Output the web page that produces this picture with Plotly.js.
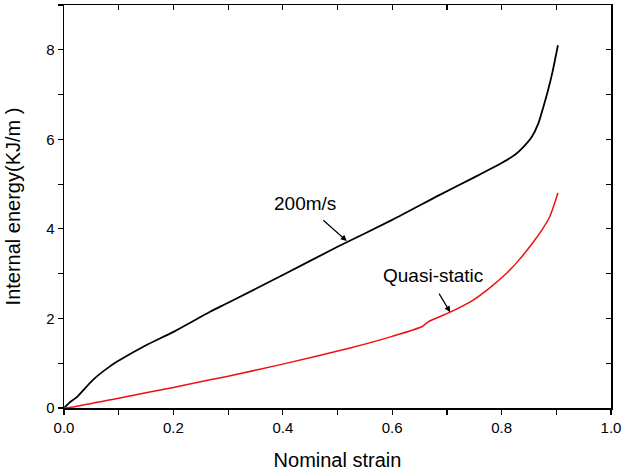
<!DOCTYPE html>
<html>
<head>
<meta charset="utf-8">
<script src="https://cdn.plot.ly/plotly-3.0.1.min.js"></script>
<style>html,body{margin:0;padding:0;background:#fff;}#chart{width:627px;height:476px;}</style>
</head>
<body>
<div id="chart"></div>
<script>
const strain200 = [0, 0.01, 0.024, 0.053, 0.084, 0.102, 0.15, 0.2, 0.267, 0.3, 0.4, 0.5, 0.6, 0.687, 0.75, 0.8, 0.825, 0.84, 0.855, 0.867, 0.877, 0.885, 0.893, 0.903];
const energy200 = [0, 0.12, 0.25, 0.63, 0.93, 1.07, 1.4, 1.7, 2.15, 2.35, 2.97, 3.6, 4.2, 4.76, 5.15, 5.47, 5.66, 5.83, 6.05, 6.35, 6.75, 7.1, 7.5, 8.1];
const strainQS = [0, 0.02, 0.1, 0.2, 0.267, 0.3, 0.4, 0.523, 0.6, 0.655, 0.665, 0.706, 0.748, 0.78, 0.81, 0.83, 0.857, 0.875, 0.888, 0.903];
const energyQS = [0, 0.03, 0.22, 0.46, 0.63, 0.71, 0.98, 1.34, 1.6, 1.82, 1.92, 2.14, 2.41, 2.7, 3.02, 3.28, 3.69, 4.0, 4.27, 4.8];
const xTickVals = [0, 0.2, 0.4, 0.6, 0.8, 1.0];
const xTickText = ["0.0", "0.2", "0.4", "0.6", "0.8", "1.0"];
const yTickVals = [0, 2, 4, 6, 8];
const yTickText = ["0", "2", "4", "6", "8"];
const labels = ["200m/s", "Quasi-static"];
const labelPos = [[0.441, 4.56], [0.675, 2.95]];
const arrowTips = [[0.517, 3.73], [0.706, 2.14]];

const font = "Arial, 'Liberation Sans', sans-serif";
const traces = [
  {x: strain200, y: energy200, mode: 'lines', line: {color: '#000000', width: 1.8, shape: 'spline', smoothing: 0.6}, hoverinfo: 'skip'},
  {x: strainQS, y: energyQS, mode: 'lines', line: {color: '#ee1111', width: 1.5, shape: 'spline', smoothing: 0.6}, hoverinfo: 'skip'},
  {x: [0], y: [0], xaxis: 'x2', yaxis: 'y2', mode: 'markers', marker: {opacity: 0}, hoverinfo: 'skip'}
];
const axBase = {
  showgrid: false, zeroline: false, showline: true, linecolor: '#000', linewidth: 1.5,
  ticks: 'outside', ticklen: 5, tickwidth: 1.2, tickcolor: '#000',
  tickfont: {family: font, size: 15, color: '#000'}
};
const layout = {
  width: 627, height: 476,
  margin: {l: 64, r: 16, t: 5, b: 68},
  paper_bgcolor: '#fff', plot_bgcolor: '#fff',
  showlegend: false,
  xaxis: Object.assign({}, axBase, {
    range: [0, 1.0], tickvals: xTickVals, ticktext: xTickText,
    minor: {dtick: 0.1, ticks: 'outside', ticklen: 5, tickwidth: 1.2, tickcolor: '#000'},
    title: {text: 'Nominal strain', font: {family: font, size: 20, color: '#000'}, standoff: 18}
  }),
  yaxis: Object.assign({}, axBase, {
    range: [0, 9], tickvals: yTickVals, ticktext: yTickText,
    minor: {dtick: 1, ticks: 'outside', ticklen: 5, tickwidth: 1.2, tickcolor: '#000'},
    title: {text: 'Internal energy(KJ/m )', font: {family: font, size: 20, color: '#000'}, standoff: 20}
  }),
  xaxis2: {overlaying: 'x', side: 'top', range: [0, 1.0], tickvals: xTickVals, showticklabels: false,
    showgrid: false, zeroline: false, showline: true, linecolor: '#000', linewidth: 1.5,
    ticks: 'inside', ticklen: 5, tickwidth: 1.2, tickcolor: '#000',
    minor: {dtick: 0.1, ticks: 'inside', ticklen: 5, tickwidth: 1.2, tickcolor: '#000'}},
  yaxis2: {overlaying: 'y', side: 'right', range: [0, 9], tickvals: yTickVals, showticklabels: false,
    showgrid: false, zeroline: false, showline: true, linecolor: '#000', linewidth: 1.5,
    ticks: 'inside', ticklen: 5, tickwidth: 1.2, tickcolor: '#000',
    minor: {dtick: 1, ticks: 'inside', ticklen: 5, tickwidth: 1.2, tickcolor: '#000'}},
  annotations: [
    {x: labelPos[0][0], y: labelPos[0][1], xref: 'x', yref: 'y', text: labels[0], showarrow: false,
     font: {family: font, size: 19, color: '#000'}, xanchor: 'center', yanchor: 'middle'},
    {x: labelPos[1][0], y: labelPos[1][1], xref: 'x', yref: 'y', text: labels[1], showarrow: false,
     font: {family: font, size: 19, color: '#000'}, xanchor: 'center', yanchor: 'middle'},
    {x: arrowTips[0][0], y: arrowTips[0][1], xref: 'x', yref: 'y', text: '', showarrow: true,
     arrowhead: 2, arrowsize: 1, arrowwidth: 1.2, arrowcolor: '#000', ax: -25, ay: -22, standoff: 0},
    {x: arrowTips[1][0], y: arrowTips[1][1], xref: 'x', yref: 'y', text: '', showarrow: true,
     arrowhead: 2, arrowsize: 1, arrowwidth: 1.2, arrowcolor: '#000', ax: -12, ay: -20, standoff: 0}
  ]
};
Plotly.newPlot('chart', traces, layout, {staticPlot: true, displayModeBar: false});
</script>
</body>
</html>
